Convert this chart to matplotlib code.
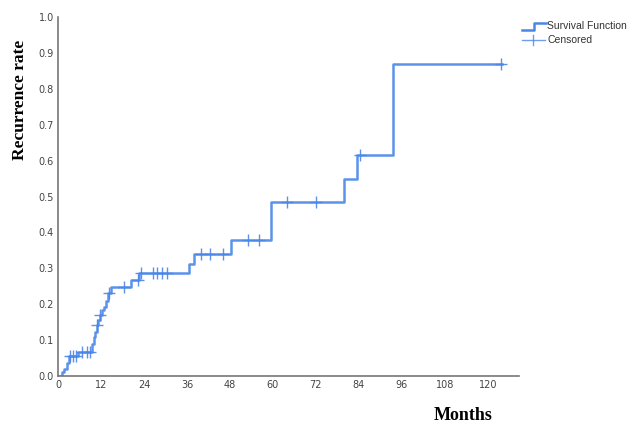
import matplotlib.pyplot as plt
from matplotlib.lines import Line2D
import numpy as np

# step curve: value holds from each time onward
step_months = [0, 1.0, 1.7, 2.6, 3.1, 5.6, 9.6, 10.0, 10.4, 10.8, 11.2, 11.7,
               12.4, 12.9, 13.4, 14.0, 14.7, 20.4, 22.7, 36.5, 38.1, 48.4,
               59.5, 79.8, 83.5, 93.5, 124.0]
step_rate = [0.0, 0.01, 0.02, 0.036, 0.055, 0.068, 0.09, 0.11, 0.123, 0.142,
             0.156, 0.17, 0.184, 0.193, 0.21, 0.23, 0.249, 0.267, 0.287,
             0.312, 0.34, 0.38, 0.485, 0.55, 0.615, 0.87, 0.87]

# censored observations
censor_months = [3.4, 4.3, 5.0, 6.7, 8.1, 9.0, 10.8, 11.8, 14.2, 18.3, 22.2,
                 23.2, 26.5, 27.7, 29.0, 30.5, 40.0, 42.5, 46.0, 53.0, 56.0,
                 64.0, 72.0, 84.3, 123.8]

x_ticks = [0, 12, 24, 36, 48, 60, 72, 84, 96, 108, 120]
y_ticks = [0.0, 0.1, 0.2, 0.3, 0.4, 0.5, 0.6, 0.7, 0.8, 0.9, 1.0]

blue = '#4a86e8'
grey_text = '#444444'

fig = plt.figure(figsize=(6.4, 4.23), dpi=100)
W, H = 640, 423
ax = fig.add_axes([58 / W, 1 - 376 / H, (519 - 58) / W, (376 - 17) / H])

ax.step(step_months, step_rate, where='post', color=blue, lw=1.8, alpha=0.9)

sm = np.array(step_months)
sr = np.array(step_rate)
censor_rate = [sr[np.searchsorted(sm, m, side='right') - 1] for m in censor_months]
ax.plot(censor_months, censor_rate, ls='none', marker='+', ms=8.5, mew=1.0,
        color=blue, alpha=0.9)

ax.set_xlim(0, 128.7)
ax.set_ylim(0, 1.0)
ax.set_xticks(x_ticks)
ax.set_yticks(y_ticks)
ax.set_yticklabels([f'{v:.1f}' for v in y_ticks])
ax.tick_params(length=0, labelsize=7, labelcolor=grey_text, pad=3)
for side in ['top', 'right']:
    ax.spines[side].set_visible(False)
for side in ['left', 'bottom']:
    ax.spines[side].set_color('#777777')
    ax.spines[side].set_linewidth(1.2)

fig.text(20 / W, 1 - 100 / H, 'Recurrence rate', rotation=90, ha='center',
         va='center', family='Liberation Serif', weight='bold', fontsize=12.5)
fig.text(463 / W, 1 - 415 / H, 'Months', ha='center', va='center',
         family='Liberation Serif', weight='bold', fontsize=13)

# legend drawn by hand so the function icon can be a step
def fx(px):
    return px / W


def fy(py):
    return 1 - py / H


fig.add_artist(Line2D([fx(522), fx(534), fx(534), fx(546)],
                      [fy(30), fy(30), fy(23), fy(23)],
                      color=blue, lw=1.8, transform=fig.transFigure))
fig.add_artist(Line2D([fx(522), fx(545)], [fy(40), fy(40)],
                      color=blue, lw=1.0, alpha=0.8, transform=fig.transFigure))
fig.add_artist(Line2D([fx(533), fx(533)], [fy(35), fy(45)],
                      color=blue, lw=1.0, alpha=0.8, transform=fig.transFigure))
fig.text(fx(547), fy(26), 'Survival Function', fontsize=7.5, color='#333333',
         va='center', ha='left', family='Liberation Sans')
fig.text(fx(547), fy(40), 'Censored', fontsize=7.5, color='#333333',
         va='center', ha='left', family='Liberation Sans')

fig.savefig('out.png', dpi=100)
